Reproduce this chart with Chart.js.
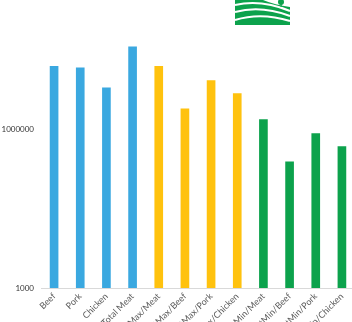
<!DOCTYPE html>
<html>
<head>
<meta charset="utf-8">
<script src="https://cdn.jsdelivr.net/npm/chart.js@4"></script>
<style>
  html, body { margin: 0; padding: 0; background: #fff; overflow: hidden; }
  #wrap { width: 355px; height: 322px; }
</style>
</head>
<body>
<div id="wrap"><canvas id="chart" width="355" height="322"></canvas></div>
<script>
const categories = [
    'Beef', 'Pork', 'Chicken', 'Total Meat',
    'ImportMax/Meat', 'ImportMax/Beef', 'ImportMax/Pork', 'ImportMax/Chicken',
    'ImportMin/Meat', 'ImportMin/Beef', 'ImportMin/Pork', 'ImportMin/Chicken'
]
const values = [
    15300000, 14300000, 6000000, 35600000,
    15300000, 2410000, 8200000, 4680000,
    1510000, 240000, 820000, 468000
]
const yTicks = [1000, 1000000]

const BLUE = '#3aa8e0'
const YELLOW = '#ffc20e'
const GREEN = '#0ca24c'
const barColors = [
    BLUE, BLUE, BLUE, BLUE,
    YELLOW, YELLOW, YELLOW, YELLOW,
    GREEN, GREEN, GREEN, GREEN
]

// small farm-field logo in the top right corner
const logoPlugin = {
    id: 'logo',
    afterDraw(chart) {
        const ctx = chart.ctx
        const x = 235, y = 0, w = 55, h = 25
        ctx.save()
        ctx.fillStyle = GREEN
        ctx.beginPath()
        ctx.moveTo(x, y)
        ctx.lineTo(x + 28, y)
        ctx.quadraticCurveTo(x + 40, y + 5, x + w, y + 7)
        ctx.lineTo(x + w, y + h)
        ctx.lineTo(x, y + h)
        ctx.closePath()
        ctx.fill()
        ctx.strokeStyle = '#fff'
        ctx.lineWidth = 2
        const curves = [[5, 1, 11], [12, 7, 16], [20, 14, 21]]
        curves.forEach(c => {
            ctx.beginPath()
            ctx.moveTo(x, y + c[0])
            ctx.quadraticCurveTo(x + 26, y + c[1] - 2, x + w, y + c[2])
            ctx.stroke()
        })
        // tree
        ctx.fillStyle = GREEN
        ctx.beginPath()
        ctx.arc(x + 46, y + 2, 3, 0, Math.PI * 2)
        ctx.fill()
        ctx.fillRect(x + 45.5, y + 2, 1.2, 5)
        ctx.restore()
    }
}

new Chart(document.getElementById('chart').getContext('2d'), {
    type: 'bar',
    data: {
        labels: categories,
        datasets: [{
            data: values,
            backgroundColor: barColors,
            barThickness: 8,
            borderWidth: 0
        }]
    },
    options: {
        responsive: false,
        animation: false,
        layout: {
            padding: { top: 23, right: 0, left: 0, bottom: 0 }
        },
        plugins: {
            legend: { display: false },
            tooltip: { enabled: false }
        },
        scales: {
            x: {
                grid: { display: false, drawTicks: false },
                border: { display: true, color: '#d9d9d9' },
                ticks: {
                    autoSkip: false,
                    minRotation: 45,
                    maxRotation: 45,
                    color: '#595959',
                    font: { family: 'Lato', size: 9 },
                    padding: 3
                },
                afterFit(scale) {
                    scale.height = 34
                }
            },
            y: {
                type: 'logarithmic',
                min: 1000,
                max: 100000000,
                grid: { display: false, drawTicks: false },
                border: { display: false },
                afterBuildTicks(scale) {
                    scale.ticks = yTicks.map(v => ({ value: v }))
                },
                ticks: {
                    color: '#333333',
                    font: { family: 'Lato', size: 8 },
                    padding: 7,
                    callback: v => String(v)
                },
                afterFit(scale) {
                    scale.width = 41
                }
            }
        }
    },
    plugins: [logoPlugin]
})
</script>
</body>
</html>
